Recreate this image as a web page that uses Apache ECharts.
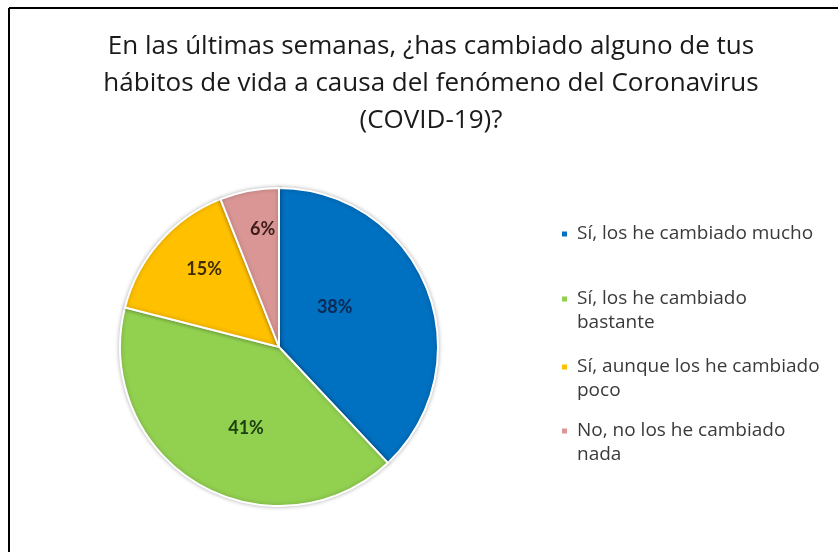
<!DOCTYPE html>
<html>
<head>
<meta charset="utf-8">
<script src="https://cdn.jsdelivr.net/npm/echarts@6/dist/echarts.min.js"></script>
<style>
html,body{margin:0;padding:0;background:#fff;}
#chart{width:838px;height:552px;}
</style>
</head>
<body>
<div id="chart"></div>
<script>
const titleLines = [
  "En las últimas semanas, ¿has cambiado alguno de tus",
  "hábitos de vida a causa del fenómeno del Coronavirus",
  "(COVID-19)?"
];
const categories = [
  "Sí, los he cambiado mucho",
  "Sí, los he cambiado\nbastante",
  "Sí, aunque los he cambiado\npoco",
  "No, no los he cambiado\nnada"
];
const values = [38, 41, 15, 6];

const colors = ["#0070C0", "#92D050", "#FFC000", "#D99694"];
const labelColors = ["#0b2a55", "#1d4010", "#3f2c00", "#3d1c1c"];
const labelOffsets = [[-21, -9], [9, 10], [-13, -23], [-1, -37]];
const legendTops = [222, 287, 355, 419];
const TITLE_FONT = "Open Sans";
const FONT = "Open Sans";
const LABEL_FONT = "Lato";

const chart = echarts.init(document.getElementById('chart'));
const data = categories.map((c, i) => ({
  name: c,
  value: values[i],
  itemStyle: { color: colors[i] },
  label: { color: labelColors[i], offset: labelOffsets[i] }
}));

const LINE_H = 24;
const legends = categories.map((c, i) => {
  const twoLines = c.indexOf('\n') >= 0;
  const h = twoLines ? (LINE_H + 7) : 7;
  // square at top-left, invisible dot to reserve width/height
  const icon = 'path://M0,0h7v7h-7z M10.99,' + (h - 0.01) + 'h0.01v0.01h-0.01z';
  return {
    orient: 'vertical',
    left: 560,
    top: legendTops[i],
    data: [c],
    icon: icon,
    itemWidth: 11,
    itemHeight: h,
    itemGap: 0,
    padding: 0,
    textStyle: {
      fontFamily: FONT,
      fontSize: 19,
      color: '#3a3a3a',
      lineHeight: LINE_H
    }
  };
});

chart.setOption({
  backgroundColor: '#ffffff',
  animation: false,
  title: {
    text: titleLines.join('\n'),
    left: 426,
    textAlign: 'center',
    top: 23,
    textStyle: {
      fontFamily: TITLE_FONT,
      fontSize: 26,
      fontWeight: 'normal',
      color: '#1a1a1a',
      lineHeight: 37
    }
  },
  legend: legends,
  graphic: [
    { type: 'line', shape: { x1: 9, y1: 8, x2: 838, y2: 8 }, style: { stroke: '#000', lineWidth: 2 } },
    { type: 'line', shape: { x1: 9, y1: 8, x2: 9, y2: 552 }, style: { stroke: '#000', lineWidth: 2 } }
  ],
  series: [{
    type: 'pie',
    center: [279, 347],
    radius: 159,
    startAngle: 90,
    clockwise: true,
    data: data,
    itemStyle: { borderColor: '#fff', borderWidth: 2, shadowBlur: 4, shadowColor: 'rgba(0,0,0,0.25)' },
    label: {
      show: true,
      position: 'inside',
      formatter: '{c}%',
      fontFamily: LABEL_FONT,
      fontSize: 18,
      fontWeight: 'bold'
    },
    labelLine: { show: false },
    emphasis: { disabled: true }
  }]
});
</script>
</body>
</html>
